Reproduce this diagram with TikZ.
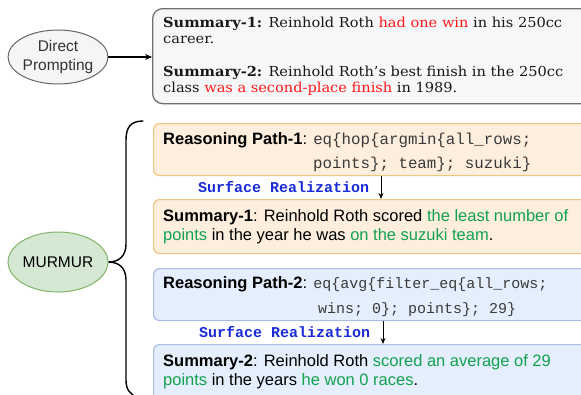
\documentclass[tikz,border=0pt]{standalone}
\usepackage{fontspec}
\setmainfont[FakeStretch=1.06]{DejaVu Serif}
\setsansfont{Liberation Sans}
\setmonofont{Liberation Mono}
\usetikzlibrary{arrows.meta,shapes.geometric}

\definecolor{ellgrayfill}{HTML}{F5F5F5}
\definecolor{ellgraydraw}{HTML}{666666}
\definecolor{murfill}{HTML}{D5E8D4}
\definecolor{murdraw}{HTML}{82B366}
\definecolor{topfill}{HTML}{F6F7F8}
\definecolor{topdraw}{HTML}{707070}
\definecolor{orfill}{HTML}{FDEEDD}
\definecolor{ordraw}{HTML}{EDC77E}
\definecolor{blfill}{HTML}{E5EEFC}
\definecolor{bldraw}{HTML}{A8BFE3}
\definecolor{hlred}{HTML}{FF1A1A}
\definecolor{hlgreen}{HTML}{12A150}
\definecolor{srblue}{HTML}{1A2BD8}
\definecolor{txtgray}{HTML}{333333}
\definecolor{codegray}{HTML}{3A3A3A}

\newcommand{\red}[1]{\textcolor{hlred}{#1}}
\newcommand{\grn}[1]{\textcolor{hlgreen}{#1}}

\tikzset{
  oval/.style={ellipse, minimum width=96pt, inner sep=0pt, line width=1pt,
    font=\sffamily\fontsize{15.5}{19}\selectfont, align=center, text=txtgray},
  panel/.style={rectangle, anchor=north west, inner sep=0pt, minimum width=460pt},
  outcome/.style={panel, draw=topdraw, fill=topfill, line width=1.3pt, rounded corners=10pt},
  pathbox1/.style={panel, draw=ordraw, fill=orfill, line width=1.2pt, rounded corners=6pt},
  pathbox2/.style={panel, draw=bldraw, fill=blfill, line width=1.2pt, rounded corners=6pt},
  line/.style={anchor=base west, inner sep=0pt},
  serifline/.style={line, font=\fontsize{13.75}{16}\selectfont, text=black!90},
  sansline/.style={line, font=\sffamily\fontsize{16.5}{19}\selectfont},
  codeline/.style={line, font=\ttfamily\fontsize{15.8}{19}\selectfont, text=codegray},
  realize/.style={anchor=west, inner sep=0pt, text=srblue,
    font=\ttfamily\bfseries\fontsize{15}{18}\selectfont},
  flow/.style={-{Stealth[length=7pt,width=6pt]}, line width=1.1pt},
  step arrow/.style={-{Stealth[length=6pt,width=5pt]}, line width=1pt},
}

\begin{document}
\begin{tikzpicture}[x=1pt,y=-1pt]
\useasboundingbox (0,0) rectangle (581,394);
\clip (0,0) rectangle (581,394);
\fill[white] (0,0) rectangle (581,394);

% left-hand method labels
\node[oval, draw=ellgraydraw, fill=ellgrayfill, minimum height=54pt] (dp) at (58,57) {Direct\\Prompting};
\node[oval, draw=murdraw, fill=murfill, minimum height=60pt, text=black] (mur) at (58,262) {MURMUR};

% direct prompting output
\node[outcome, minimum height=95pt] (top) at (152,8) {};
\node[serifline] (t1) at (163,27) {\textbf{Summary-1:} Reinhold Roth \red{had one win} in his 250cc};
\node[serifline] (t2) at (163,43) {career.};
\node[serifline] (t3) at (163,76) {\textbf{Summary-2:} Reinhold Roth's best finish in the 250cc};
\node[serifline] (t4) at (163,92) {class \red{was a second-place finish} in 1989.};
\draw[flow] (dp.east) -- (top.west |- dp.east);

% MURMUR: first reasoning path
\node[pathbox1, minimum height=52pt] (rp1) at (153,123) {};
\node[sansline] (rp1a) at (163,144) {\textbf{Reasoning Path-1}: \ttfamily\fontsize{15.8}{19}\selectfont\color{codegray}eq\{hop\{argmin\{all\_rows;};
\node[codeline] (rp1b) at (313,168) {points\}; team\}; suzuki\}};
\node[realize] (sr1) at (198,187) {Surface Realization};
\node[pathbox1, minimum height=54pt] (s1) at (153,199) {};
\node[sansline] (s1a) at (163,221) {\textbf{Summary-1}: Reinhold Roth scored \grn{the least number of}};
\node[sansline] (s1b) at (163,240) {\grn{points} in the year he was \grn{on the suzuki team}.};
\coordinate (a1s) at (381,0);
\draw[step arrow] (rp1.south -| a1s) -- (s1.north -| a1s);

% MURMUR: second reasoning path
\node[pathbox2, minimum height=52pt] (rp2) at (153,268) {};
\node[sansline] (rp2a) at (163,288) {\textbf{Reasoning Path-2}: \ttfamily\fontsize{15}{19}\selectfont\color{codegray}eq\{avg\{filter\_eq\{all\_rows;};
\node[codeline, font=\ttfamily\fontsize{15}{19}\selectfont] (rp2b) at (318,313) {wins; 0\}; points\}; 29\}};
\node[realize] (sr2) at (199,332) {Surface Realization};
\node[pathbox2, minimum height=60pt] (s2) at (153,344) {};
\node[sansline] (s2a) at (163,366) {\textbf{Summary-2}: Reinhold Roth \grn{scored an average of 29}};
\node[sansline] (s2b) at (163,385) {\grn{points} in the years \grn{he won 0 races}.};
\coordinate (a2s) at (383,0);
\draw[step arrow] (rp2.south -| a2s) -- (s2.north -| a2s);

% curly brace grouping the MURMUR outputs
\draw[line width=1.4pt, line cap=round]
  (143,121) .. controls (131,121) and (126,127) .. (126,140)
  -- (126,244) .. controls (126,256) and (119,262) .. (mur.east)
  .. controls (119,262) and (126,268) .. (126,280)
  -- (126,380) .. controls (126,390) and (130,394) .. (138,398);
\end{tikzpicture}
\end{document}
